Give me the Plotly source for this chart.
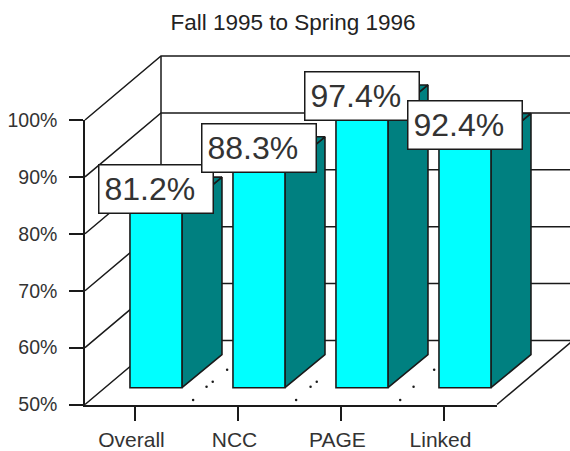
import plotly.graph_objects as go

categories = ["Overall", "NCC", "PAGE", "Linked"]
values = [81.2, 88.3, 97.4, 92.4]
value_labels = ["81.2%", "88.3%", "97.4%", "92.4%"]
y_ticks = [50, 60, 70, 80, 90, 100]
y_tick_labels = ["50%", "60%", "70%", "80%", "90%", "100%"]
title_text = "Fall 1995 to Spring 1996"
# floor dots: (category gap position, value height)
dot_x = [0.56, 0.69, 0.75, 0.89, 1.56, 1.70, 1.76, 2.57, 2.70, 2.90]
dot_y = [50.8, 53.1, 54.0, 56.1, 50.8, 53.1, 54.0, 50.8, 53.1, 56.1]

W, H = 570, 451
L, R, T, B = 85, 497, 120, 404.5
PX = (R - L) / 4.0          # px per category
PY = (B - T) / 50.0         # px per percent
X0, X1 = -0.49, 3.51

WALL_DX, WALL_DY = 76 / PX, 64 / PY
BAR_DX, BAR_DY = 20.5 / PX, 16.8 / PY
BAR_W = 52 / PX
SIDE_DX, SIDE_DY = 40 / PX, 33 / PY

INK = "#1a1a1a"
CYAN = "#00FFFF"
TEAL = "#008080"
FONT = "Liberation Sans, Arial, sans-serif"

fig = go.Figure()

# walls, floor dots and the bars' side/top faces live on the full-canvas axes
# (same units as the main axes), because filled traces are clipped to their subplot
wx, wy = [], []
for t in y_ticks:
    wx += [X0, X0 + WALL_DX, X1 + WALL_DX, None]
    wy += [t, t + WALL_DY, t + WALL_DY, None]
wx += [X0 + WALL_DX, X0 + WALL_DX, None, X1, X1 + WALL_DX, None]
wy += [50 + WALL_DY, 100 + WALL_DY, None, 50, 50 + WALL_DY, None]
fig.add_trace(go.Scatter(x=wx, y=wy, mode="lines", line=dict(color=INK, width=1.5),
                         hoverinfo="skip", showlegend=False, cliponaxis=False,
                         xaxis="x", yaxis="y"))
fig.add_trace(go.Scatter(x=dot_x, y=dot_y, mode="markers",
                         marker=dict(color=INK, size=2.5), hoverinfo="skip",
                         showlegend=False, cliponaxis=False, xaxis="x", yaxis="y"))

base = 50 + BAR_DY
for i, v in enumerate(values):
    xr = i + BAR_DX + BAR_W / 2
    xl = i + BAR_DX - BAR_W / 2
    top = v + BAR_DY
    fig.add_trace(go.Scatter(
        x=[xr, xr + SIDE_DX, xr + SIDE_DX, xr, xr],
        y=[base, base + SIDE_DY, top + SIDE_DY, top, base],
        mode="lines", fill="toself", fillcolor=TEAL, line=dict(color=INK, width=1.6),
        hoverinfo="skip", showlegend=False, xaxis="x", yaxis="y"))
    fig.add_trace(go.Scatter(
        x=[xl, xr, xr + SIDE_DX, xl + SIDE_DX, xl],
        y=[top, top, top + SIDE_DY, top + SIDE_DY, top],
        mode="lines", fill="toself", fillcolor=TEAL, line=dict(color=INK, width=1.6),
        hoverinfo="skip", showlegend=False, xaxis="x", yaxis="y"))

# front faces
fig.add_trace(go.Bar(x=[i + BAR_DX for i in range(4)], y=[v - 50 for v in values],
                     base=base, width=BAR_W,
                     marker=dict(color=CYAN, line=dict(color=INK, width=1.6)),
                     showlegend=False, cliponaxis=False, hoverinfo="skip",
                     xaxis="x2", yaxis="y2"))

# value boxes use the full-canvas axes so none is dropped above 100%;
# 97.4% sits under 88.3% in the reference
annotations = []
for i in [0, 2, 1, 3]:
    annotations.append(dict(
        x=i + BAR_DX, y=values[i] + BAR_DY, xref="x", yref="y",
        text=value_labels[i], showarrow=False, xanchor="center", yanchor="bottom",
        yshift=-3.5, width=103, height=37, align="left", valign="middle",
        bgcolor="white", bordercolor=INK, borderwidth=1.5, borderpad=5,
        font=dict(family=FONT, size=32, color="#333333")))

fig.update_layout(
    width=W, height=H, margin=dict(l=0, r=0, t=0, b=0, pad=0, autoexpand=False),
    paper_bgcolor="white", plot_bgcolor="rgba(0,0,0,0)", showlegend=False,
    title=dict(text=title_text, x=293 / W, y=1 - 22 / H, xanchor="center", yanchor="middle",
               font=dict(family=FONT, size=22.5, color="#222222")),
    annotations=annotations,
    xaxis=dict(domain=[0, 1], range=[X0 - L / PX, X0 + (W - L) / PX], visible=False, fixedrange=True),
    yaxis=dict(domain=[0, 1], range=[50 - (H - B) / PY, 50 + B / PY], visible=False, fixedrange=True),
    xaxis2=dict(domain=[L / W, R / W], range=[X0, X1], anchor="y2", tickmode="array",
                tickvals=list(range(4)), ticktext=categories, ticks="outside", ticklen=15,
                tickwidth=1.5, tickcolor=INK, showline=True, linecolor=INK, linewidth=1.5,
                showgrid=False, zeroline=False, ticklabelstandoff=1, ticklabelshift=-4,
                tickfont=dict(family=FONT, size=21, color="#333333")),
    yaxis2=dict(domain=[1 - B / H, 1 - T / H], range=[50, 100], anchor="x2", tickmode="array",
                tickvals=y_ticks, ticktext=y_tick_labels, ticks="outside", ticklen=14,
                tickwidth=1.5, tickcolor=INK, showline=True, linecolor=INK, linewidth=1.5,
                showgrid=False, zeroline=False, ticklabelstandoff=8,
                tickfont=dict(family=FONT, size=19.5, color="#333333")),
)

fig.write_html("out.html", config={"displayModeBar": False},
               post_script="document.body.style.margin='0';document.body.style.overflow='hidden';")
